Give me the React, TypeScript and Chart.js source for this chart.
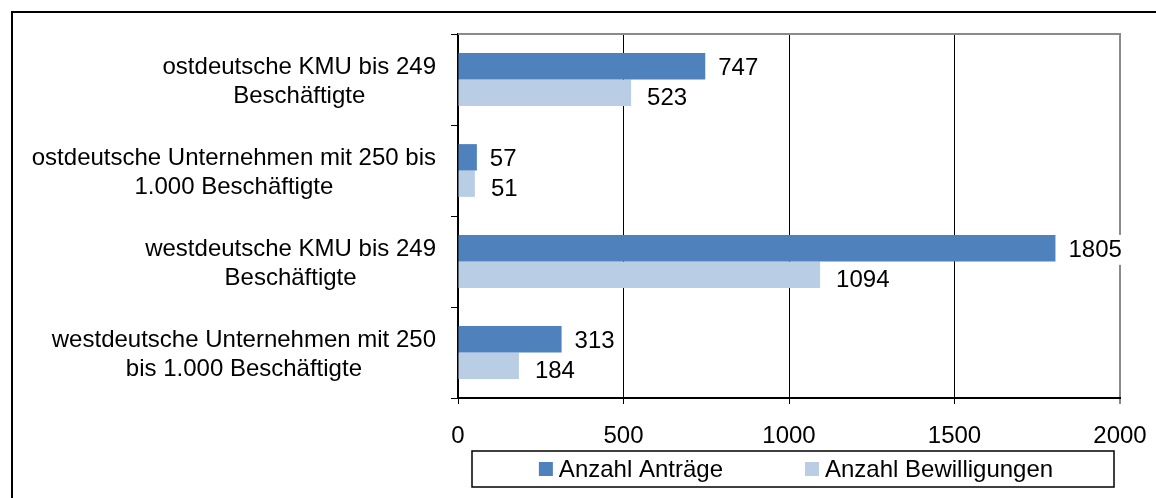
import React, { useEffect, useRef } from 'react';
import { Chart, registerables } from 'chart.js';

Chart.register(...registerables);

// ---- data ----
const categories: string[][] = [
  ['ostdeutsche KMU bis 249', 'Beschäftigte'],
  ['ostdeutsche Unternehmen mit 250 bis', '1.000 Beschäftigte'],
  ['westdeutsche KMU bis 249', 'Beschäftigte'],
  ['westdeutsche Unternehmen mit 250', 'bis 1.000 Beschäftigte'],
];
const seriesNames = ['Anzahl Anträge', 'Anzahl Bewilligungen'];
const antraege = [747, 57, 1805, 313];
const bewilligungen = [523, 51, 1094, 184];
const xTickValues = [0, 500, 1000, 1500, 2000];
const xTickLabels = ['0', '500', '1000', '1500', '2000'];
const seriesColors = ['#4F81BD', '#B9CDE5'];

const FAMILY = "'Liberation Sans', Arial, sans-serif";
const SIZE = 24;
const FONT = `${SIZE}px ${FAMILY}`;

const customPlugin = {
  id: 'customDraw',
  beforeDraw(chart: any) {
    const ctx = chart.ctx;
    ctx.save();
    ctx.fillStyle = '#ffffff';
    ctx.fillRect(0, 0, chart.width, chart.height);
    // outer frame
    ctx.strokeStyle = '#000';
    ctx.lineWidth = 2;
    ctx.strokeRect(12, 12, chart.width + 20, chart.height + 20);
    ctx.restore();
  },
  afterDatasetsDraw(chart: any) {
    const ctx = chart.ctx;
    const ca = chart.chartArea;
    ctx.save();
    // top plot border (grey)
    ctx.strokeStyle = '#8a8a8a';
    ctx.lineWidth = 2;
    ctx.beginPath();
    ctx.moveTo(ca.left, ca.top);
    ctx.lineTo(ca.right + 1, ca.top);
    ctx.stroke();

    // data labels
    ctx.font = FONT;
    ctx.textBaseline = 'middle';
    ctx.textAlign = 'left';
    chart.data.datasets.forEach((ds: any, di: number) => {
      const meta = chart.getDatasetMeta(di);
      meta.data.forEach((el: any, i: number) => {
        const txt = String(ds.data[i]);
        const w = ctx.measureText(txt).width;
        const x = el.x + (di === 0 ? 13 : 16);
        const y = el.y + (di === 0 ? 1.5 : 5);
        ctx.fillStyle = '#ffffff';
        ctx.fillRect(x - 3, y - 15, w + 6, 30);
        ctx.fillStyle = '#000000';
        ctx.fillText(txt, x, y + 1);
      });
    });
    ctx.restore();
  },
  afterDraw(chart: any) {
    const ctx = chart.ctx;
    const ca = chart.chartArea;
    const yScale = chart.scales.y;
    ctx.save();
    ctx.font = FONT;
    ctx.fillStyle = '#000';
    ctx.textBaseline = 'middle';
    ctx.textAlign = 'center';
    const lineH = 28.5;
    const labels = chart.data.labels as string[][];
    labels.forEach((lines, i) => {
      const cy = yScale.getPixelForTick(i) + 2.5;
      const widest = Math.max(...lines.map((l) => ctx.measureText(l).width));
      const right = ca.left - 22;
      const cx = right - widest / 2;
      const y0 = cy - ((lines.length - 1) * lineH) / 2;
      lines.forEach((l, k) => ctx.fillText(l, cx, y0 + k * lineH));
    });

    // legend
    const boxL = ca.left + 14;
    const boxR = ca.right - 6;
    const boxT = ca.bottom + 53;
    const boxB = ca.bottom + 89;
    ctx.strokeStyle = '#000';
    ctx.lineWidth = 1.5;
    ctx.strokeRect(boxL, boxT, boxR - boxL, boxB - boxT);
    const sq = 14;
    const gapSq = 6;
    const gapItems = 82;
    const items = chart.data.datasets.map((ds: any) => ({
      label: ds.label,
      color: ds.backgroundColor,
      w: ctx.measureText(ds.label).width,
    }));
    const total = items.reduce((s: number, it: any) => s + sq + gapSq + it.w, 0) + gapItems * (items.length - 1);
    let x = (boxL + boxR) / 2 - total / 2 + 3;
    const my = (boxT + boxB) / 2;
    ctx.textAlign = 'left';
    items.forEach((it: any) => {
      ctx.fillStyle = it.color;
      ctx.fillRect(x, my - sq / 2, sq, sq);
      ctx.fillStyle = '#000';
      ctx.fillText(it.label, x + sq + gapSq, my + 1);
      x += sq + gapSq + it.w + gapItems;
    });
    ctx.restore();
  },
};

export default function App() {
  const canvasRef = useRef<HTMLCanvasElement | null>(null);

  useEffect(() => {
    document.body.style.margin = '0';
    const canvas = canvasRef.current;
    if (!canvas) return;
    const chart = new Chart(canvas, {
      type: 'bar',
      data: {
        labels: categories,
        datasets: [
          {
            label: seriesNames[0],
            data: antraege,
            backgroundColor: seriesColors[0],
            borderWidth: 0,
            categoryPercentage: 0.58,
            barPercentage: 1,
          },
          {
            label: seriesNames[1],
            data: bewilligungen,
            backgroundColor: seriesColors[1],
            borderWidth: 0,
            categoryPercentage: 0.58,
            barPercentage: 1,
          },
        ],
      },
      options: {
        indexAxis: 'y',
        animation: false,
        responsive: true,
        maintainAspectRatio: false,
        devicePixelRatio: 1,
        layout: { padding: { top: 34, right: 36, left: 0, bottom: 0 } },
        plugins: {
          legend: { display: false },
          tooltip: { enabled: false },
        },
        scales: {
          x: {
            type: 'linear',
            min: 0,
            max: 2000,
            afterBuildTicks: (s: any) => {
              s.ticks = xTickValues.map((v) => ({ value: v }));
            },
            afterFit: (s: any) => {
              s.height = 100;
              s.paddingLeft = 0;
              s.paddingRight = 0;
            },
            ticks: {
              color: '#000',
              font: { family: FAMILY, size: SIZE },
              padding: 18,
              maxRotation: 0,
              callback: (v: any) => {
                const idx = xTickValues.indexOf(Number(v));
                return idx >= 0 ? xTickLabels[idx] : String(v);
              },
            },
            grid: {
              color: (c: any) => (c.tick && c.tick.value === 2000 ? '#8a8a8a' : '#000'),
              lineWidth: (c: any) => (c.tick && c.tick.value === 2000 ? 2 : 1),
              tickLength: 6,
              drawTicks: true,
            },
            border: { color: '#000', width: 2 },
          },
          y: {
            type: 'category',
            afterFit: (s: any) => {
              s.width = 458;
            },
            ticks: { display: false },
            grid: {
              offset: true,
              drawOnChartArea: false,
              drawTicks: true,
              tickLength: 7,
              color: '#000',
              lineWidth: 1,
            },
            border: { color: '#000', width: 2 },
          },
        },
      },
      plugins: [customPlugin],
    } as any);
    return () => chart.destroy();
  }, []);

  return (
    <div style={{ position: 'absolute', left: 0, top: 0, width: 1156, height: 498 }}>
      <canvas ref={canvasRef} />
    </div>
  );
}
